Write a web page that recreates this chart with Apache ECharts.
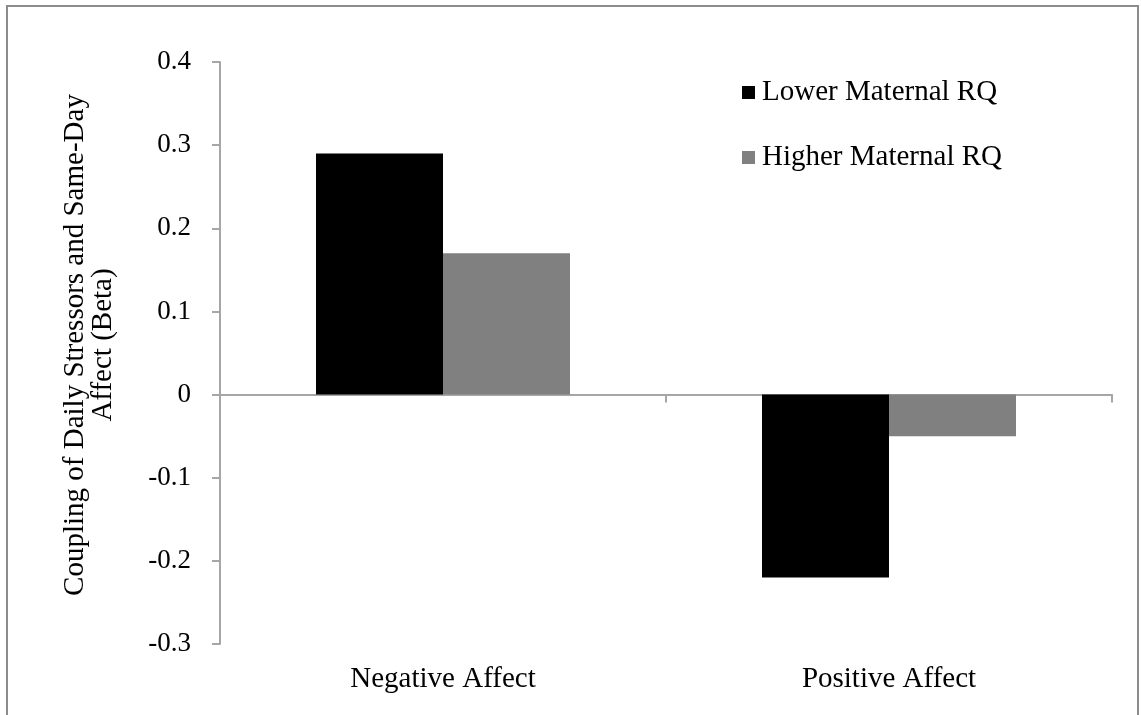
<!DOCTYPE html>
<html>
<head>
<meta charset="utf-8">
<script src="https://cdn.jsdelivr.net/npm/echarts@6/dist/echarts.min.js"></script>
<style>
  html, body { margin: 0; padding: 0; background: #fff; }
  #chart { width: 1141px; height: 715px; }
</style>
</head>
<body>
<div id="chart"></div>
<script>
// datos del gráfico
const categorias = ['Negative Affect', 'Positive Affect'];
const lowerRQ = [0.29, -0.22];
const higherRQ = [0.17, -0.05];
const nombresSeries = ['Lower Maternal RQ', 'Higher Maternal RQ'];
const tituloEjeY = 'Coupling of Daily Stressors and Same-Day\nAffect (Beta)';

const fuente = '"Liberation Serif", "Times New Roman", serif';
const colorEje = '#a6a6a6';

const chart = echarts.init(document.getElementById('chart'));

const option = {
    animation: false,
    backgroundColor: '#fff',
    textStyle: { fontFamily: fuente, color: '#000' },
    graphic: [{
        type: 'rect',
        shape: { x: 7, y: 6, width: 1131, height: 760 },
        style: { fill: 'none', stroke: '#8c8c8c', lineWidth: 2 },
        silent: true
    }],
    legend: {
        orient: 'vertical',
        left: 737,
        top: 73,
        itemWidth: 13,
        itemHeight: 13,
        itemGap: 36,
        icon: 'rect',
        textStyle: { fontFamily: fuente, fontSize: 29, color: '#000', padding: [0, 0, 0, 2] },
        data: nombresSeries
    },
    grid: { left: 220, right: 29, top: 62, bottom: 71 },
    xAxis: [{
        type: 'category',
        data: categorias,
        position: 'bottom',
        axisLine: { show: false, onZero: false },
        axisTick: { show: false },
        axisLabel: { margin: 21, fontFamily: fuente, fontSize: 29, color: '#000' }
    }, {
        type: 'category',
        data: categorias,
        position: 'bottom',
        axisLine: { show: true, onZero: true, lineStyle: { color: colorEje, width: 2 } },
        axisTick: { show: true, length: 8, lineStyle: { color: colorEje, width: 2 } },
        axisLabel: { show: false }
    }],
    yAxis: {
        type: 'value',
        min: -0.3,
        max: 0.4,
        interval: 0.1,
        splitLine: { show: false },
        axisLine: { show: true, lineStyle: { color: colorEje, width: 2 } },
        axisTick: { show: true, length: 8, lineStyle: { color: colorEje, width: 2 } },
        axisLabel: {
            margin: 29,
            fontFamily: fuente,
            fontSize: 27,
            color: '#000',
            formatter: v => (Math.round(v * 10) / 10).toString()
        },
        name: tituloEjeY,
        nameLocation: 'middle',
        nameGap: 103,
        nameRotate: 90,
        nameTextStyle: { fontFamily: fuente, fontSize: 29, color: '#000', lineHeight: 28, padding: [0, 0, 0, 16] }
    },
    series: [{
        name: nombresSeries[0],
        type: 'bar',
        xAxisIndex: 0,
        data: lowerRQ,
        barWidth: 127,
        barGap: '0%',
        itemStyle: { color: '#000000' }
    }, {
        name: nombresSeries[1],
        type: 'bar',
        xAxisIndex: 0,
        data: higherRQ,
        barWidth: 127,
        barGap: '0%',
        itemStyle: { color: '#808080' }
    }]
};

chart.setOption(option);
window.addEventListener('resize', function() { chart.resize(); });
</script>
</body>
</html>
